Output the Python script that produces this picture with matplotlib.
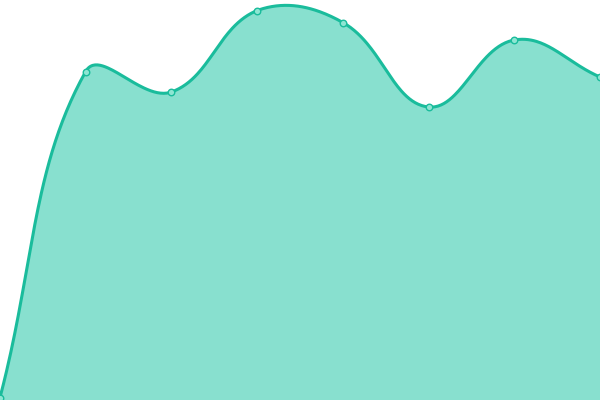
import numpy as np
import matplotlib
matplotlib.use("Agg")
import matplotlib.pyplot as plt

# data (x index, y value on a 0..400 scale)
labels = ["A", "B", "C", "D", "E", "F", "G", "H"]
values = [2.5, 328.5, 308, 389.5, 377.5, 293, 360, 323]

line_color = "#1abc9c"
fill_color = "#88e0cf"
tension = 0.4

W, H = 600, 400
fig = plt.figure(figsize=(6, 4), dpi=100)
ax = fig.add_axes([0, 0, 1, 1])
ax.set_xlim(0, W)
ax.set_ylim(0, H)
ax.axis("off")

n = len(values)
xs = np.linspace(0, W, n)
ys = np.array(values, dtype=float)

# Chart.js-style spline control points
cp_prev = []
cp_next = []
for i in range(n):
    p = np.array([xs[i], ys[i]])
    a = np.array([xs[max(i - 1, 0)], ys[max(i - 1, 0)]])
    b = np.array([xs[min(i + 1, n - 1)], ys[min(i + 1, n - 1)]])
    d01 = np.hypot(*(p - a))
    d12 = np.hypot(*(b - p))
    tot = d01 + d12
    s01 = d01 / tot if tot else 0
    s12 = d12 / tot if tot else 0
    fa = tension * s01
    fb = tension * s12
    c1 = p - fa * (b - a)
    c2 = p + fb * (b - a)
    c1 = np.clip(c1, [0, 0], [W, H])
    c2 = np.clip(c2, [0, 0], [W, H])
    cp_prev.append(c1)
    cp_next.append(c2)

t = np.linspace(0, 1, 60)[:, None]
pts = []
for i in range(n - 1):
    p0 = np.array([xs[i], ys[i]])
    p3 = np.array([xs[i + 1], ys[i + 1]])
    p1 = cp_next[i]
    p2 = cp_prev[i + 1]
    seg = ((1 - t) ** 3) * p0 + 3 * ((1 - t) ** 2) * t * p1 + 3 * (1 - t) * t ** 2 * p2 + t ** 3 * p3
    pts.append(seg if i == 0 else seg[1:])
curve = np.vstack(pts)

ax.fill_between(curve[:, 0], 0, curve[:, 1], color=fill_color, lw=0, zorder=1)
ax.plot(curve[:, 0], curve[:, 1], color=line_color, lw=2.2, zorder=2, solid_capstyle="round")
ax.scatter(xs, ys, s=22, facecolor="#8ee6d3", edgecolor=line_color, linewidths=1.0, zorder=3, clip_on=True)

fig.savefig("out.png", dpi=100)
